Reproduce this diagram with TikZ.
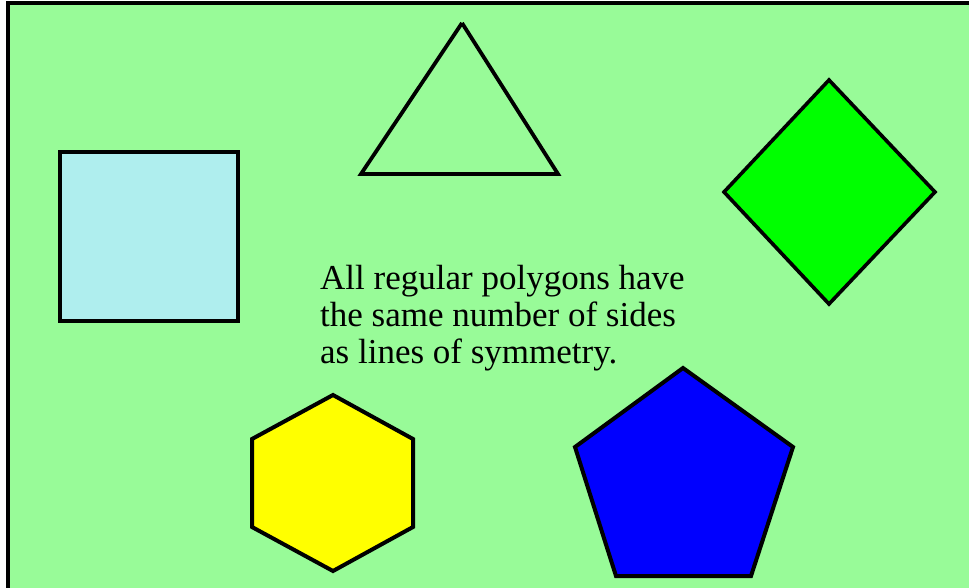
\documentclass[tikz,border=0pt]{standalone}
\usepackage{fontspec}
\setmainfont{Liberation Serif}
\definecolor{bggreen}{HTML}{98FB98}
\definecolor{sqcyan}{HTML}{AFEEEE}
\definecolor{dmgreen}{HTML}{00FF00}
\definecolor{hxyellow}{HTML}{FFFF00}
\definecolor{pnblue}{HTML}{0000FF}
\tikzset{
  shapeline/.style={draw=black, line width=4pt, line join=miter},
  txt/.style={anchor=base west, inner sep=0pt, font=\fontsize{35}{37}\selectfont}
}
\begin{document}
\begin{tikzpicture}[x=1pt,y=-1pt]
\useasboundingbox (0,0) rectangle (969,587);
\begin{scope}
\clip (0,0) rectangle (969,587);
\draw[fill=bggreen, line width=4pt] (8,3) rectangle (990,610);
\end{scope}
% square
\draw[shapeline, fill=sqcyan] (60,152) rectangle (238,321);
% triangle (open at apex)
\coordinate (tA) at (462,23);
\coordinate (tB) at (558,174);
\coordinate (tC) at (361,174);
\draw[shapeline, line width=3.8pt] (tA) -- (tB) -- (tC) -- (tA);
% diamond
\draw[shapeline, line width=3.6pt, fill=dmgreen] (829,80) -- (935,192) -- (829,304) -- (724,192) -- cycle;
% hexagon
\draw[shapeline, fill=hxyellow] (333,395) -- (413,439) -- (413,527) -- (333,571) -- (252,527) -- (252,439) -- cycle;
% pentagon
\draw[shapeline, fill=pnblue] (683,368) -- (793,447) -- (751,576) -- (616,576) -- (575,447) -- cycle;
% text
\node[txt] (l1) at (320,289) {All regular polygons have};
\node[txt] (l2) at (320,326) {the same number of sides};
\node[txt] (l3) at (320,363) {as lines of symmetry.};
\end{tikzpicture}
\end{document}
